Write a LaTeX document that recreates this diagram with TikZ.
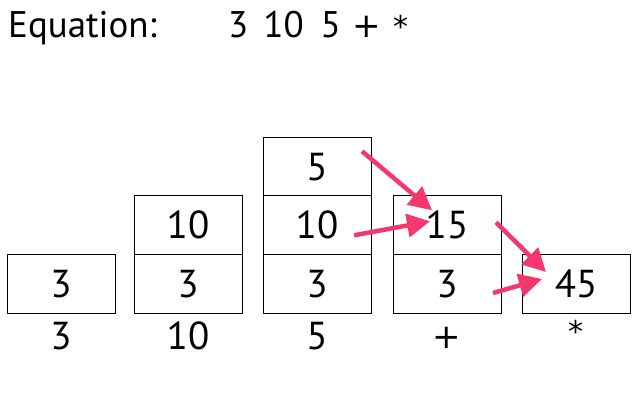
\documentclass[tikz,border=0pt]{standalone}
\usepackage{fontspec}
\setmainfont{PT Sans}
\newfontfamily\symfont{DejaVu Sans}
\usetikzlibrary{arrows.meta}
\definecolor{pushpink}{RGB}{244,56,110}
\newcommand{\plussym}{{\symfont\fontsize{34}{34}\selectfont +}}
\newcommand{\starsym}{{\symfont\fontsize{30}{30}\selectfont *}}
\tikzset{
  cell/.style={draw,line width=1pt,minimum width=108pt,minimum height=58.7pt,
    inner sep=0pt,outer sep=0pt,font=\fontsize{39}{39}\selectfont},
  tok/.style={inner sep=0pt,font=\fontsize{39}{39}\selectfont},
  pushto/.style={pushpink,line width=4.5pt,-{Triangle[length=23pt,width=23pt]}}
}
\begin{document}
\begin{tikzpicture}[x=1pt,y=-1pt]
  \useasboundingbox (0,0) rectangle (640,403);
  \node[anchor=base west,inner sep=0pt,font=\fontsize{37}{37}\selectfont]
  (eq) at (8,38) {Equation:};
  \node[anchor=base west,inner sep=0pt,font=\fontsize{37}{37}\selectfont]
  (rpn) at (228,38) {3\hspace{15pt}10\hspace{17pt}5\hspace{12pt}\plussym\hspace{12pt}\starsym};

  \node[cell] (s1a) at (61,284) {3};

  \node[cell] (s2a) at (188,284) {3};
  \node[cell] (s2b) at (188,225.3) {10};

  \node[cell] (s3a) at (317,284) {3};
  \node[cell] (s3b) at (317,225.3) {10};
  \node[cell] (s3c) at (317,166.6) {5};

  \node[cell] (s4a) at (447,284) {3};
  \node[cell] (s4b) at (447,225.3) {15};

  \node[cell] (s5a) at (576,284) {45};

  \node[tok] (t1) at (61,336) {3};
  \node[tok] (t2) at (188,336) {10};
  \node[tok] (t3) at (317,336) {5};
  \node[tok] (t4) at (447,338) {\plussym};
  \node[tok] (t5) at (576,331) {\starsym};

  \draw[pushto] ([xshift=-9pt,yshift=-14pt]s3c.north east)
  -- ([xshift=-15pt,yshift=15pt]s4b.center);
  \draw[pushto] ([xshift=37pt,yshift=-10pt]s3b.center)
  -- ([xshift=-17pt,yshift=4pt]s4b.center);
  \draw[pushto] ([xshift=49pt,yshift=3pt]s4b.center)
  -- ([xshift=-30pt,yshift=12pt]s5a.center);
  \draw[pushto] ([xshift=46pt,yshift=-9pt]s4a.center)
  -- ([xshift=-34pt,yshift=5pt]s5a.center);
\end{tikzpicture}
\end{document}
